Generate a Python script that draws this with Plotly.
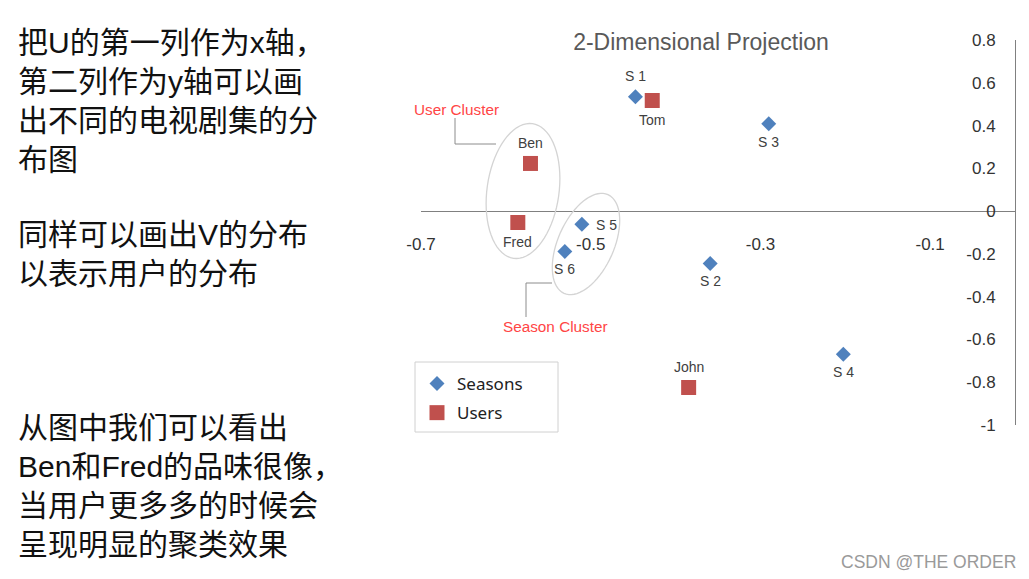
import math
import plotly.graph_objects as go

# ---------------- data ----------------
season_names = ["S 1", "S 2", "S 3", "S 4", "S 5", "S 6"]
season_x = [-0.4473, -0.3592, -0.2902, -0.2023, -0.5104, -0.5305]
season_y = [0.5347, -0.2449, 0.4089, -0.6690, -0.0612, -0.1885]

user_names = ["Ben", "Tom", "John", "Fred"]
user_x = [-0.5710, -0.4275, -0.3846, -0.5859]
user_y = [0.2228, 0.5172, -0.8246, -0.0532]

x_tickvals = [-0.7, -0.5, -0.3, -0.1]
x_ticktext = ["-0.7", "-0.5", "-0.3", "-0.1"]
y_tickvals = [0.8, 0.6, 0.4, 0.2, 0, -0.2, -0.4, -0.6, -0.8, -1]
y_ticktext = ["0.8", "0.6", "0.4", "0.2", "0", "-0.2", "-0.4", "-0.6", "-0.8", "-1"]

title_text = "2-Dimensional Projection"
user_cluster_label = "User Cluster"
season_cluster_label = "Season Cluster"
left_lines_1 = ["把U的第一列作为x轴，", "第二列作为y轴可以画", "出不同的电视剧集的分", "布图"]
left_lines_2 = ["同样可以画出V的分布", "以表示用户的分布"]
left_lines_3 = ["从图中我们可以看出", "Ben和Fred的品味很像，", "当用户更多多的时候会", "呈现明显的聚类效果"]
watermark = "CSDN @THE ORDER"

# ---------------- layout geometry ----------------
W, H = 1029, 579
ML, MR, MT, MB = 421, 14, 40, 154
XR = [-0.7, 0.0]
YR = [-1.0, 0.8]
PW, PH = W - ML - MR, H - MT - MB


def px_to_data(px, py):
    x = XR[0] + (px - ML) / PW * (XR[1] - XR[0])
    y = YR[1] - (py - MT) / PH * (YR[1] - YR[0])
    return x, y


def px_to_paper(px, py):
    return (px - ML) / PW, 1 - (py - MT) / PH


def ellipse_path(cx, cy, a, b, tilt_deg, n=72):
    # pixel-space ellipse -> data-space svg path
    th = math.radians(tilt_deg)
    u = (math.sin(th), -math.cos(th))
    v = (math.cos(th), math.sin(th))
    pts = []
    for i in range(n + 1):
        t = 2 * math.pi * i / n
        px = cx + a * math.cos(t) * u[0] + b * math.sin(t) * v[0]
        py = cy + a * math.cos(t) * u[1] + b * math.sin(t) * v[1]
        pts.append(px_to_data(px, py))
    return "M " + " L ".join(f"{x:.5f},{y:.5f}" for x, y in pts) + " Z"


# label placement (style only): where each point label sits
season_pos = ["top", "bottom", "bottom", "bottom", "right", "bottom"]
user_pos = ["top", "bottom", "top", "bottom"]

label_font = dict(family="Liberation Sans, Arial", size=14, color="#404040")

fig = go.Figure()
fig.add_trace(go.Scatter(
    x=season_x, y=season_y, mode="markers", name="Seasons", legendgroup="s",
    marker=dict(symbol="diamond", size=11.5, color="#4F81BD"),
    cliponaxis=False,
))
fig.add_trace(go.Scatter(
    x=user_x, y=user_y, mode="markers", name="Users", legendgroup="u",
    marker=dict(symbol="square", size=15, color="#C0504D"),
    cliponaxis=False,
))

annotations = []


def add_point_labels(xs, ys, names, positions, off_top, off_bot):
    for xv, yv, nm, pos in zip(xs, ys, names, positions):
        a = dict(x=xv, y=yv, xref="x", yref="y", text=nm, showarrow=False, font=label_font)
        if pos == "top":
            a.update(yshift=off_top, xanchor="center", yanchor="middle")
        elif pos == "bottom":
            a.update(yshift=-off_bot, xanchor="center", yanchor="middle")
        else:
            a.update(xshift=12, xanchor="left", yanchor="middle", yshift=-1)
        annotations.append(a)


add_point_labels(season_x, season_y, season_names, season_pos, 21, 18)
add_point_labels(user_x, user_y, user_names, user_pos, 20, 20)

shapes = []
ell_style = dict(color="#d4d4d4", width=1.3)
shapes.append(dict(type="path", xref="x", yref="y", path=ellipse_path(523, 191, 68, 36, 8), line=ell_style))
shapes.append(dict(type="path", xref="x", yref="y", path=ellipse_path(586, 244, 54, 28, 24), line=ell_style))

lead = dict(color="#8c8c8c", width=1)
a1 = px_to_data(455, 118); a2 = px_to_data(455, 144); a3 = px_to_data(496, 144)
shapes.append(dict(type="path", xref="x", yref="y",
                   path=f"M {a1[0]},{a1[1]} L {a2[0]},{a2[1]} L {a3[0]},{a3[1]}", line=lead))
b1 = px_to_data(526, 317); b2 = px_to_data(526, 283); b3 = px_to_data(552, 283)
shapes.append(dict(type="path", xref="x", yref="y",
                   path=f"M {b1[0]},{b1[1]} L {b2[0]},{b2[1]} L {b3[0]},{b3[1]}", line=lead))

# legend frame
lx0, ly0 = px_to_paper(415, 362)
lx1, ly1 = px_to_paper(558, 432)
shapes.append(dict(type="rect", xref="paper", yref="paper", x0=lx0, x1=lx1, y0=ly1, y1=ly0,
                   line=dict(color="#d0d0d0", width=1), fillcolor="rgba(0,0,0,0)", layer="above"))

red_font = dict(family="Liberation Sans, Arial", size=15.3, color="#ff4545")
ux, uy = px_to_data(456, 109)
annotations.append(dict(x=ux, y=uy, xref="x", yref="y", text=user_cluster_label,
                        showarrow=False, font=red_font))
sx, sy = px_to_data(555, 326)
annotations.append(dict(x=sx, y=sy, xref="x", yref="y", text=season_cluster_label,
                        showarrow=False, font=red_font))

cjk_font = dict(family="Liberation Sans, Noto Sans CJK SC", size=30, color="#111111")
for lines, top_center in ((left_lines_1, 45), (left_lines_2, 237), (left_lines_3, 430)):
    px_, py_ = px_to_paper(16, top_center - 21)
    annotations.append(dict(x=px_, y=py_, xref="paper", yref="paper", text="<br>".join(lines),
                            showarrow=False, xanchor="left", yanchor="top", align="left",
                            font=cjk_font))

wx, wy = px_to_paper(928, 562)
annotations.append(dict(x=wx, y=wy, xref="paper", yref="paper", text=watermark,
                        showarrow=False, xanchor="center", yanchor="middle",
                        font=dict(family="Liberation Sans, Arial", size=17.5, color="#9a9a9a")))

tick_font = dict(family="Liberation Sans, Arial", size=17, color="#333333")

fig.update_layout(
    width=W, height=H, autosize=False,
    margin=dict(l=ML, r=MR, t=MT, b=MB, pad=0),
    paper_bgcolor="white", plot_bgcolor="white",
    title=dict(text=title_text, x=px_to_paper(701, 0)[0], xref="paper", xanchor="center",
               y=1 - 42 / H, yref="container", yanchor="middle",
               font=dict(family="Liberation Sans, Arial", size=23, color="#595959")),
    xaxis=dict(range=XR, anchor="free", position=(0 - YR[0]) / (YR[1] - YR[0]),
               showline=True, linecolor="#808080", linewidth=1,
               showgrid=False, zeroline=False, ticks="",
               tickmode="array", tickvals=x_tickvals, ticktext=x_ticktext,
               tickfont=tick_font, ticklabelstandoff=17),
    yaxis=dict(range=YR, anchor="free", position=1.0, side="left",
               showline=True, linecolor="#808080", linewidth=1,
               showgrid=False, zeroline=False, ticks="",
               tickmode="array", tickvals=y_tickvals, ticktext=y_ticktext,
               tickfont=tick_font, ticklabelstandoff=16),
    legend=dict(x=px_to_paper(417, 366)[0], y=px_to_paper(417, 366)[1],
                xanchor="left", yanchor="top", tracegroupgap=4,
                borderwidth=0, bgcolor="rgba(0,0,0,0)",
                font=dict(family="Noto Sans", size=17, color="#222222"),
                itemsizing="trace"),
    shapes=shapes, annotations=annotations,
)

fig.write_html("out.html", config={"displayModeBar": False},
               post_script="document.body.style.margin='0';")
